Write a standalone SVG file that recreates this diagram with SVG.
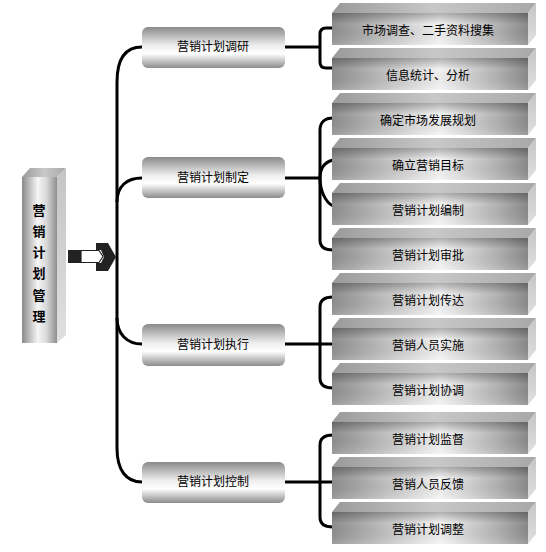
<svg xmlns="http://www.w3.org/2000/svg" width="546" height="552" viewBox="0 0 546 552">
<defs>
<linearGradient id="fh" x1="0" y1="0" x2="1" y2="0">
<stop offset="0" stop-color="#8e8e8e"/><stop offset="0.2" stop-color="#b4b4b4"/><stop offset="0.55" stop-color="#f4f4f4"/><stop offset="0.85" stop-color="#b2b2b2"/><stop offset="1" stop-color="#8a8a8a"/>
</linearGradient>
<linearGradient id="fv" x1="0" y1="0" x2="0" y2="1">
<stop offset="0" stop-color="#000" stop-opacity="0.28"/><stop offset="0.35" stop-color="#000" stop-opacity="0"/><stop offset="1" stop-color="#fff" stop-opacity="0.15"/>
</linearGradient>
<linearGradient id="top" x1="0" y1="0" x2="1" y2="0">
<stop offset="0" stop-color="#9a9a9a"/><stop offset="0.5" stop-color="#c8c8c8"/><stop offset="1" stop-color="#a8a8a8"/>
</linearGradient>
<linearGradient id="side" x1="0" y1="0" x2="0" y2="1">
<stop offset="0" stop-color="#c4c4c4"/><stop offset="1" stop-color="#e0e0e0"/>
</linearGradient>
<linearGradient id="mid" x1="0" y1="0" x2="0" y2="1">
<stop offset="0" stop-color="#8a8a8a"/><stop offset="0.45" stop-color="#eeeeee"/><stop offset="0.65" stop-color="#ffffff"/><stop offset="1" stop-color="#8c8c8c"/>
</linearGradient>
<linearGradient id="col" x1="0" y1="0" x2="1" y2="0">
<stop offset="0" stop-color="#8a8a8a"/><stop offset="0.45" stop-color="#f6f6f6"/><stop offset="0.7" stop-color="#d8d8d8"/><stop offset="1" stop-color="#8e8e8e"/>
</linearGradient>
<g id="rbox">
<polygon points="0,0 8,-10 204,-10 196,0" fill="url(#top)"/>
<polygon points="196,0 204,-10 204,22 196,32" fill="url(#side)"/>
<rect x="0" y="0" width="196" height="32" fill="url(#fh)"/>
<rect x="0" y="0" width="196" height="32" fill="url(#fv)"/>
</g>
</defs>
<style>
text{font-family:"Noto Sans CJK SC","Noto Sans",sans-serif;font-size:12px;fill:#000;text-anchor:middle}
.c{fill:none;stroke:#000;stroke-width:3}
.b{font-size:13px;font-weight:bold}
</style>
<rect width="546" height="552" fill="#fff"/>

<g id="connectors">
<path class="c" d="M142,47 C126,47 117,58 117,82 L117,448 C117,470 126,482 142,482"/>
<path class="c" d="M117,202 C117,186 127,178 142,178"/>
<path class="c" d="M117,318 C117,334 127,344 142,344"/>
<path class="c" d="M285,47 H320 M285,178 H320 M285,344 H332 M285,482 H332"/>
<path class="c" d="M333,28 H326 Q320,28 320,34 V62 Q320,68 326,68 H333"/>
<path class="c" d="M333,118 C325,118 320,122 320,130 V240 C320,247 325,250 333,250"/>
<path class="c" d="M333,160 C325,162 320,168 320,178 C320,190 325,202 333,206"/>
<path class="c" d="M333,297 C325,297 320,300 320,307 V378 C320,385 325,388 333,388"/>
<path class="c" d="M333,435 C325,435 320,438 320,445 V517 C320,524 325,527 333,527"/>
</g>

<g id="root">
<polygon points="22,177 30,168 66,168 57,177" fill="url(#top)"/>
<polygon points="57,177 66,168 66,335 57,343" fill="url(#side)"/>
<rect x="22" y="177" width="35" height="166" fill="url(#col)"/>
<text class="b" x="39" y="215">营</text>
<text class="b" x="39" y="236">销</text>
<text class="b" x="39" y="257">计</text>
<text class="b" x="39" y="278">划</text>
<text class="b" x="39" y="300">管</text>
<text class="b" x="39" y="321">理</text>
</g>

<g id="arrow">
<rect x="68" y="250" width="13" height="13" fill="#222"/>
<polygon points="81,250.5 99,250.5 103,256.5 99,262.5 81,262.5" fill="#fff" stroke="#222" stroke-width="1.2"/>
<polygon points="96,243 108,243 116,257 108,271 96,271 96,263 101,263 104,257 101,250 96,250" fill="#222"/>
</g>

<g id="m1"><rect x="142" y="27" width="143" height="41" rx="6" fill="url(#mid)"/><text x="213" y="51">营销计划调研</text></g>
<g id="m2"><rect x="142" y="157" width="143" height="41" rx="6" fill="url(#mid)"/><text x="213" y="182">营销计划制定</text></g>
<g id="m3"><rect x="142" y="324" width="143" height="42" rx="6" fill="url(#mid)"/><text x="213" y="349">营销计划执行</text></g>
<g id="m4"><rect x="142" y="462" width="143" height="41" rx="6" fill="url(#mid)"/><text x="213" y="486">营销计划控制</text></g>

<g id="r1"><use href="#rbox" x="332" y="13"/><text x="428" y="35">市场调查、二手资料搜集</text></g>
<g id="r2"><use href="#rbox" x="332" y="58"/><text x="428" y="80">信息统计、分析</text></g>
<g id="r3"><use href="#rbox" x="332" y="103"/><text x="428" y="125">确定市场发展规划</text></g>
<g id="r4"><use href="#rbox" x="332" y="148"/><text x="428" y="170">确立营销目标</text></g>
<g id="r5"><use href="#rbox" x="332" y="193"/><text x="428" y="215">营销计划编制</text></g>
<g id="r6"><use href="#rbox" x="332" y="238"/><text x="428" y="260">营销计划审批</text></g>
<g id="r7"><use href="#rbox" x="332" y="283"/><text x="428" y="305">营销计划传达</text></g>
<g id="r8"><use href="#rbox" x="332" y="328"/><text x="428" y="350">营销人员实施</text></g>
<g id="r9"><use href="#rbox" x="332" y="373"/><text x="428" y="395">营销计划协调</text></g>
<g id="r10"><use href="#rbox" x="332" y="422"/><text x="428" y="444">营销计划监督</text></g>
<g id="r11"><use href="#rbox" x="332" y="467"/><text x="428" y="489">营销人员反馈</text></g>
<g id="r12"><use href="#rbox" x="332" y="512"/><text x="428" y="534">营销计划调整</text></g>
</svg>
